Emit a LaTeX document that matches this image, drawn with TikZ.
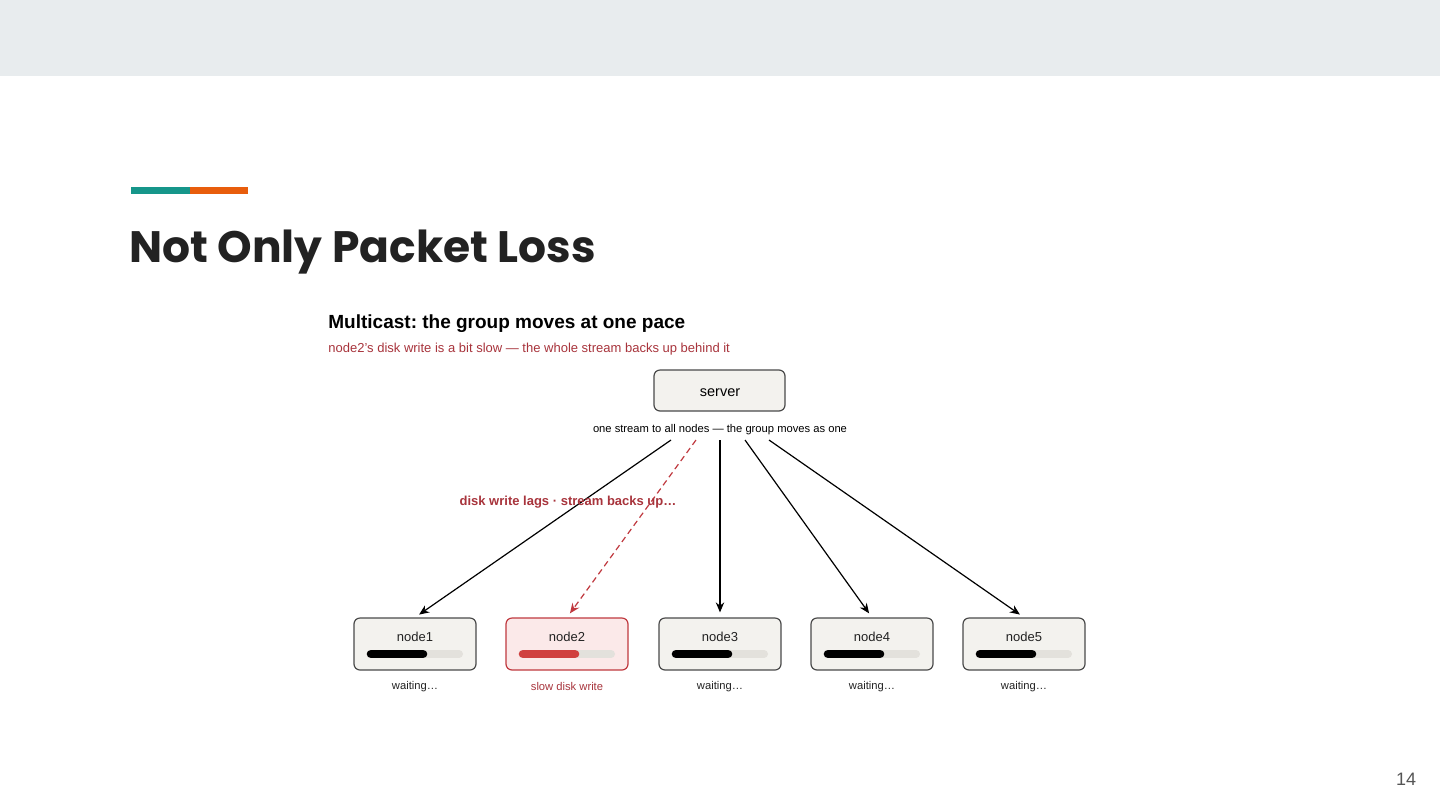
\documentclass[tikz,border=0pt]{standalone}
\usepackage{fontspec}
\setmainfont{Liberation Sans}
\newfontfamily\titlefont{Poppins}
\usetikzlibrary{arrows.meta}
\frenchspacing
\definecolor{band}{HTML}{E8ECEE}
\definecolor{teal}{HTML}{16968A}
\definecolor{orng}{HTML}{E85D0C}
\definecolor{ink}{HTML}{222222}
\definecolor{redtxt}{HTML}{A8343C}
\definecolor{boxfill}{HTML}{F3F2EE}
\definecolor{boxline}{HTML}{4A4A4A}
\definecolor{redfill}{HTML}{FBE9E9}
\definecolor{redline}{HTML}{C0393F}
\definecolor{redbar}{HTML}{D0403F}
\definecolor{track}{HTML}{E3E1DC}
\definecolor{pgnum}{HTML}{555555}
\tikzset{
  box/.style={draw=boxline, fill=boxfill, rounded corners=3pt, line width=0.6pt, minimum width=61pt, minimum height=26pt, inner sep=0pt},
  redbox/.style={box, draw=redline, fill=redfill},
  lbl/.style={font=\fontsize{6.5}{7}\selectfont, text=ink, inner sep=0pt},
  sub/.style={font=\fontsize{5.6}{6.5}\selectfont, text=ink, inner sep=0pt},
  conn/.style={-{Stealth[length=5pt,width=4.2pt]}, line width=0.6pt, black},
  dconn/.style={conn, redline, dashed, dash pattern=on 3pt off 2pt},
  bartrack/.style={line width=4pt, line cap=round, track},
  barfill/.style={line width=4.3pt, line cap=round, black}
}
\begin{document}
\begin{tikzpicture}[x=0.5pt,y=-0.5pt]
\useasboundingbox (0,0) rectangle (1440,810);
\fill[white] (0,0) rectangle (1440,810);
\fill[band] (0,0) rectangle (1440,76);
\fill[teal] (131,187) rectangle (190,194);
\fill[orng] (190,187) rectangle (248,194);
\node[anchor=west, inner sep=0pt, text=ink, font=\titlefont\bfseries\fontsize{22}{26}\selectfont] (title) at (129,252) {Not Only Packet Loss};
\node[anchor=west, inner sep=0pt, font=\bfseries\fontsize{9.5}{11}\selectfont] (head) at (328,323.5) {Multicast: the group moves at one pace};
\node[anchor=west, inner sep=0pt, text=redtxt, font=\fontsize{6.5}{7.5}\selectfont] (subt) at (328,349.5) {node2's disk write is a bit slow — the whole stream backs up behind it};
\node[box, minimum width=65.5pt, minimum height=20.5pt] (server) at (719.5,390.5) {};
\node[font=\fontsize{7.25}{8}\selectfont, inner sep=0pt] at (720,392.5) {server};
\node[font=\fontsize{5.6}{6.5}\selectfont, inner sep=0pt] (cap) at (720,430) {one stream to all nodes — the group moves as one};
% nodes
\foreach \i/\x in {1/415,3/720,4/872,5/1024}{
  \node[box] (n\i) at (\x,644) {};
  \node[lbl] at (\x,636.5) {node\i};
  \draw[bartrack] (\x-44,654) -- (\x+44,654);
  \draw[barfill] (\x-44,654) -- (\x+8,654);
  \node[sub] (w\i) at (\x,687) {waiting…};
}
\node[redbox] (n2) at (567,644) {};
\node[lbl] at (567,636.5) {node2};
\draw[bartrack] (523,654) -- (611,654);
\draw[barfill, redbar] (523,654) -- (575,654);
\node[sub, text=redtxt] (w2) at (567,686) {slow disk write};
% connectors
\coordinate (s1) at (671,440);
\coordinate (s2) at (696,440);
\coordinate (s3) at (720,440);
\coordinate (s4) at (745,440);
\coordinate (s5) at (769,440);
\draw[conn, shorten >=2.5pt] (s1) -- (n1.north);
\draw[conn, shorten >=2.5pt] (s3) -- (n3.north);
\draw[conn, shorten >=2.5pt] (s4) -- (n4.north);
\draw[conn, shorten >=2.5pt] (s5) -- (n5.north);
\draw[dconn, shorten >=2.5pt] (s2) -- (n2.north);
\node[text=redtxt, font=\bfseries\fontsize{6.5}{7.5}\selectfont, inner sep=0pt] (lag) at (568,502) {disk write lags · stream backs up…};
\node[text=pgnum, font=\fontsize{9}{10}\selectfont, inner sep=0pt] (pg) at (1406,779) {14};
\end{tikzpicture}
\end{document}
